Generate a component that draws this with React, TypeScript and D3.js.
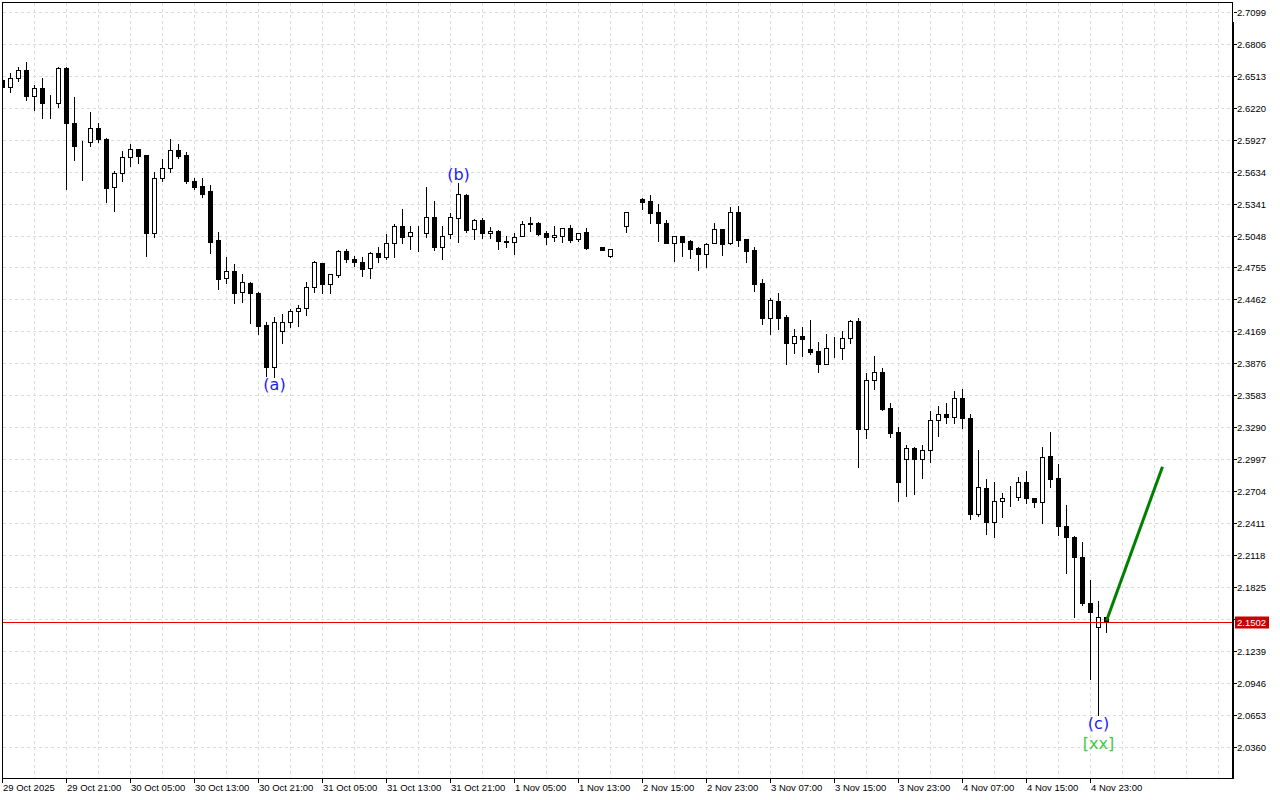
import React from 'react';
import * as d3 from 'd3';

// OHLC values of the hourly bars (index 0 = leftmost bar)
const openP = [
  2.6475, 2.6414, 2.6491, 2.6564, 2.6331, 2.6399, 2.6261, 2.6261, 2.6588, 2.6078,
  2.5872, 2.5904, 2.6032, 2.5931, 2.5491, 2.5619, 2.5771, 2.5839, 2.5787, 2.5074,
  2.5573, 2.5665, 2.5833, 2.5787, 2.5548, 2.5503, 2.5457, 2.5007, 2.4656, 2.4723,
  2.4527, 2.4610, 2.4518, 2.4227, 2.3839, 2.4175, 2.4258, 2.4358, 2.4380, 2.4573,
  2.4793, 2.4601, 2.4686, 2.4906, 2.4830, 2.4803, 2.4747, 2.4885, 2.4854, 2.4977,
  2.5136, 2.5046, 2.5078, 2.5069, 2.5215, 2.4946, 2.5060, 2.5206, 2.5420, 2.5105,
  2.5191, 2.5071, 2.5090, 2.4998, 2.4986, 2.5044, 2.5166, 2.5166, 2.5069, 2.5032,
  2.5046, 2.5115, 2.5016, 2.5078, 2.4998, 2.4946, 2.4863, 2.5138, 2.5138, 2.5261,
  2.5381, 2.5365, 2.5261, 2.5160, 2.4982, 2.5044, 2.4998, 2.4931, 2.4876, 2.4982,
  2.5105, 2.4977, 2.5261, 2.5014, 2.4915, 2.4610, 2.4289, 2.4447, 2.4298, 2.4065,
  2.4126, 2.4004, 2.3989, 2.3867, 2.4014, 2.4014, 2.4105, 2.4264, 2.3270, 2.3723,
  2.3793, 2.3463, 2.3243, 2.2995, 2.3096, 2.2995, 2.3080, 2.3356, 2.3408, 2.3380,
  2.3555, 2.3371, 2.2490, 2.2729, 2.2423, 2.2615, 2.2647, 2.2647, 2.2790, 2.2637,
  2.2601, 2.3028, 2.2821, 2.2386, 2.2285, 2.2101, 2.1679, 2.1454, 2.1545,
];
const highP = [
  2.6494, 2.6537, 2.6592, 2.6638, 2.6429, 2.6491, 2.6338, 2.6592, 2.6597, 2.6316,
  2.5915, 2.6179, 2.6078, 2.5940, 2.5640, 2.5824, 2.5885, 2.5840, 2.5788, 2.5628,
  2.5750, 2.5931, 2.5885, 2.5817, 2.5579, 2.5573, 2.5512, 2.5078, 2.4848, 2.4787,
  2.4692, 2.4619, 2.4527, 2.4252, 2.4303, 2.4325, 2.4371, 2.4411, 2.4619, 2.4817,
  2.4795, 2.4693, 2.4915, 2.4922, 2.4863, 2.4854, 2.4894, 2.4940, 2.5060, 2.5151,
  2.5289, 2.5138, 2.5138, 2.5496, 2.5365, 2.5136, 2.5252, 2.5527, 2.5427, 2.5197,
  2.5206, 2.5129, 2.5099, 2.5044, 2.5074, 2.5184, 2.5221, 2.5175, 2.5090, 2.5136,
  2.5120, 2.5145, 2.5074, 2.5115, 2.4998, 2.4946, 2.4922, 2.5138, 2.5267, 2.5261,
  2.5390, 2.5420, 2.5337, 2.5191, 2.5045, 2.5045, 2.5007, 2.4946, 2.4977, 2.5166,
  2.5106, 2.5307, 2.5319, 2.5015, 2.4940, 2.4647, 2.4472, 2.4518, 2.4319, 2.4191,
  2.4212, 2.4273, 2.4069, 2.4145, 2.4114, 2.4172, 2.4273, 2.4294, 2.3790, 2.3946,
  2.3830, 2.3509, 2.3289, 2.3126, 2.3105, 2.3126, 2.3438, 2.3484, 2.3509, 2.3622,
  2.3640, 2.3408, 2.3080, 2.2812, 2.2784, 2.2683, 2.2750, 2.2835, 2.2888, 2.2638,
  2.3105, 2.3250, 2.2952, 2.2576, 2.2287, 2.2234, 2.1888, 2.1695, 2.1546,
];
const lowP = [
  2.6383, 2.6368, 2.6466, 2.6292, 2.6200, 2.6129, 2.6129, 2.6230, 2.5475, 2.5741,
  2.5558, 2.5872, 2.5909, 2.5358, 2.5273, 2.5548, 2.5689, 2.5716, 2.4863, 2.5037,
  2.5548, 2.5634, 2.5762, 2.5533, 2.5475, 2.5404, 2.4891, 2.4555, 2.4610, 2.4432,
  2.4441, 2.4248, 2.4145, 2.3762, 2.3753, 2.4065, 2.4212, 2.4221, 2.4319, 2.4533,
  2.4518, 2.4518, 2.4670, 2.4808, 2.4771, 2.4680, 2.4656, 2.4808, 2.4833, 2.4854,
  2.4977, 2.4922, 2.4909, 2.5037, 2.4915, 2.4830, 2.5028, 2.4992, 2.5083, 2.5014,
  2.5028, 2.5023, 2.4922, 2.4940, 2.4876, 2.5044, 2.5090, 2.5053, 2.4968, 2.4998,
  2.4992, 2.4992, 2.4998, 2.4925, 2.4998, 2.4915, 2.4854, 2.5138, 2.5083, 2.5261,
  2.5289, 2.5160, 2.4998, 2.4981, 2.4814, 2.4860, 2.4845, 2.4732, 2.4757, 2.4977,
  2.4870, 2.4970, 2.4952, 2.4808, 2.4542, 2.4236, 2.4145, 2.4191, 2.3867, 2.3973,
  2.3946, 2.3959, 2.3799, 2.3866, 2.3931, 2.3916, 2.4059, 2.2922, 2.3188, 2.3640,
  2.3447, 2.3202, 2.2615, 2.2661, 2.2677, 2.2826, 2.2973, 2.3209, 2.3325, 2.3325,
  2.3280, 2.2445, 2.2478, 2.2307, 2.2279, 2.2463, 2.2567, 2.2622, 2.2591, 2.2555,
  2.2408, 2.2738, 2.2301, 2.1949, 2.1551, 2.1658, 2.0977, 2.0649, 2.1413,
];
const closeP = [
  2.6411, 2.6491, 2.6564, 2.6331, 2.6399, 2.6261, 2.6260, 2.6583, 2.6078, 2.5872,
  2.5871, 2.6032, 2.5931, 2.5487, 2.5619, 2.5771, 2.5839, 2.5781, 2.5074, 2.5573,
  2.5665, 2.5833, 2.5781, 2.5548, 2.5496, 2.5429, 2.4992, 2.4649, 2.4723, 2.4524,
  2.4619, 2.4518, 2.4221, 2.3845, 2.4252, 2.4258, 2.4356, 2.4380, 2.4573, 2.4805,
  2.4601, 2.4692, 2.4906, 2.4830, 2.4805, 2.4738, 2.4885, 2.4854, 2.4977, 2.5136,
  2.5037, 2.5078, 2.5077, 2.5215, 2.4946, 2.5046, 2.5215, 2.5427, 2.5099, 2.5188,
  2.5069, 2.5090, 2.4998, 2.4989, 2.5037, 2.5151, 2.5154, 2.5062, 2.5032, 2.5053,
  2.5115, 2.5007, 2.5069, 2.4931, 2.4998, 2.4915, 2.4922, 2.5138, 2.5261, 2.5261,
  2.5358, 2.5258, 2.5160, 2.4982, 2.5044, 2.4992, 2.4925, 2.4876, 2.4970, 2.5105,
  2.4970, 2.5261, 2.5007, 2.4909, 2.4603, 2.4289, 2.4457, 2.4294, 2.4065, 2.4126,
  2.4096, 2.3982, 2.3867, 2.4014, 2.4013, 2.4105, 2.4264, 2.3270, 2.3723, 2.3793,
  2.3457, 2.3234, 2.2790, 2.3096, 2.2995, 2.3080, 2.3356, 2.3408, 2.3380, 2.3555,
  2.3371, 2.2490, 2.2738, 2.2423, 2.2615, 2.2643, 2.2646, 2.2790, 2.2637, 2.2601,
  2.3019, 2.2812, 2.2386, 2.2285, 2.2101, 2.1679, 2.1597, 2.1545, 2.1502,
];

// time-axis labels, one every 8 bars
const timeLabels = [
  '29 Oct 2025', '29 Oct 21:00', '30 Oct 05:00', '30 Oct 13:00', '30 Oct 21:00',
  '31 Oct 05:00', '31 Oct 13:00', '31 Oct 21:00', '1 Nov 05:00', '1 Nov 13:00',
  '2 Nov 15:00', '2 Nov 23:00', '3 Nov 07:00', '3 Nov 15:00', '3 Nov 23:00',
  '4 Nov 07:00', '4 Nov 15:00', '4 Nov 23:00',
];
const labelEvery = 8;
const gridEvery = 4;

// price-axis tick labels
const priceTicks = [
  '2.7099', '2.6806', '2.6513', '2.6220', '2.5927', '2.5634', '2.5341', '2.5048',
  '2.4755', '2.4462', '2.4169', '2.3876', '2.3583', '2.3290', '2.2997', '2.2704',
  '2.2411', '2.2118', '2.1825', '2.1532', '2.1239', '2.0946', '2.0653', '2.0360',
];

const lastPrice = 2.1502;

// forecast line (bar index, price)
const projectionBars = [138, 145];
const projectionPrices = [2.1514, 2.2927];

// wave labels
const waveBars = [34, 57, 137];
const waveTexts = ['(a)', '(b)', '(c)'];
const wavePlace = ['below', 'above', 'below'];
const degreeText = '[xx]';
const degreeBar = 137;

export default function App() {
  const W = 1280;
  const H = 800;
  const left = 2;
  const right = 1232;
  const top = 2;
  const bottom = 778;
  const axisFont = "'Liberation Sans', Arial, sans-serif";

  const x = d3.scaleLinear().domain([0, 1]).range([2.5, 10.5]);
  const y = d3.scaleLinear().domain([2.036, 2.7099]).range([746.5, 12]);
  const n = closeP.length;
  const px = (v: number) => Math.round(v) + 0.5;

  const vGrid: number[] = [];
  for (let k = 1; x(k * gridEvery) < right; k++) vGrid.push(x(k * gridEvery));

  const line = d3
    .line<number>()
    .x((_, i) => x(projectionBars[i]))
    .y((d) => y(d));

  const lastY = px(y(lastPrice));

  return (
    <svg
      width={W}
      height={H}
      style={{ position: 'absolute', left: 0, top: 0, background: '#fff' }}
    >
      <defs>
        <clipPath id="plot">
          <rect x={left + 0.5} y={top + 0.5} width={right - left} height={bottom - top} />
        </clipPath>
      </defs>
      <rect x={0} y={0} width={W} height={H} fill="#fff" />

      {/* grid */}
      <g stroke="#dcdcdc" strokeDasharray="3,3" strokeWidth={1}>
        {vGrid.map((gx, i) => (
          <line key={'v' + i} x1={gx} x2={gx} y1={top + 1} y2={bottom} />
        ))}
        {priceTicks.map((t) => (
          <line key={'h' + t} x1={left + 1} x2={right} y1={px(y(+t))} y2={px(y(+t))} />
        ))}
      </g>

      {/* candles */}
      <g clipPath="url(#plot)">
        {d3.range(n).map((i) => {
          const o = openP[i];
          const c = closeP[i];
          const cx = x(i);
          const yH = Math.round(y(highP[i]));
          const yL = Math.round(y(lowP[i]));
          const yT = Math.round(y(Math.max(o, c)));
          const yB = Math.round(y(Math.min(o, c)));
          const bull = c > o;
          return (
            <g key={i}>
              {yL > yH && (
                <line x1={cx} x2={cx} y1={yH} y2={yL + 1} stroke="#000" strokeWidth={1} />
              )}
              <rect
                x={cx - 2}
                y={yT + 0.5}
                width={4}
                height={Math.max(0, yB - yT)}
                fill={bull ? '#fff' : '#000'}
                stroke="#000"
                strokeWidth={1}
              />
            </g>
          );
        })}

        {/* last price line */}
        <line x1={left} x2={right} y1={lastY} y2={lastY} stroke="#e00000" strokeWidth={1} />

        {/* projection */}
        <path d={line(projectionPrices) || ''} fill="none" stroke="#008000" strokeWidth={3} />

        {/* wave labels */}
        {waveBars.map((b, k) => (
          <text
            key={'w' + k}
            x={x(b)}
            y={wavePlace[k] === 'below' ? y(lowP[b]) + 13.5 : y(highP[b]) - 3.5}
            textAnchor="middle"
            fontFamily="'DejaVu Sans', sans-serif"
            fontSize={16}
            fill="#1a1aff"
          >
            {waveTexts[k]}
          </text>
        ))}
        <text
          x={x(degreeBar)}
          y={y(lowP[degreeBar]) + 34}
          textAnchor="middle"
          fontFamily="'DejaVu Sans', sans-serif"
          fontSize={16}
          fill="#3ccc3c"
        >
          {degreeText}
        </text>
      </g>

      {/* frame */}
      <rect
        x={left + 0.5}
        y={top + 0.5}
        width={right - left}
        height={bottom - top}
        fill="none"
        stroke="#000"
        strokeWidth={1}
      />
      <line x1={right + 1} x2={right + 1} y1={22} y2={bottom + 1} stroke="#000" strokeWidth={2} />

      {/* price axis (the label under the last-price tag is hidden, as in the terminal) */}
      <g fontFamily={axisFont} fontSize={9.5} fill="#000">
        {priceTicks.map((t) => {
          const ty = px(y(+t));
          const hidden = Math.abs(ty - lastY) < 12;
          return (
            <g key={'p' + t}>
              <line x1={right + 2} x2={right + 5} y1={ty} y2={ty} stroke="#000" strokeWidth={1} />
              {!hidden && (
                <text x={right + 5} y={ty} dominantBaseline="central">
                  {t}
                </text>
              )}
            </g>
          );
        })}
      </g>

      {/* last price tag */}
      <rect x={right + 3} y={lastY - 6} width={34} height={12} fill="#c80000" />
      <text
        x={right + 5}
        y={lastY}
        dominantBaseline="central"
        fontFamily={axisFont}
        fontSize={9.5}
        fill="#fff"
      >
        {lastPrice.toFixed(4)}
      </text>

      {/* time axis */}
      <g fontFamily={axisFont} fontSize={9.5} fill="#000">
        {timeLabels.map((lab, k) => {
          const tx = x(k * labelEvery);
          return (
            <g key={'t' + k}>
              <line x1={tx} x2={tx} y1={bottom} y2={bottom + 5} stroke="#000" strokeWidth={1} />
              <text x={tx + 0.5} y={791}>
                {lab}
              </text>
            </g>
          );
        })}
      </g>
    </svg>
  );
}
